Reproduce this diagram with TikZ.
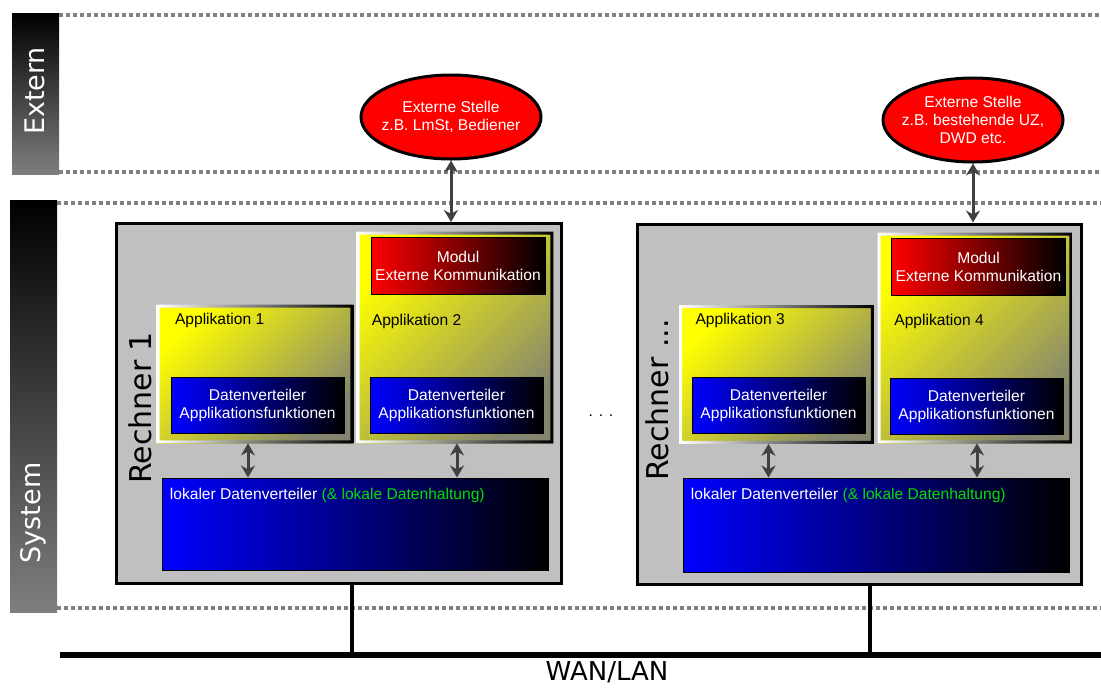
\documentclass[tikz,border=0pt]{standalone}
\usepackage{fontspec}
\setmainfont{Liberation Sans}
\newfontfamily\sidefont{DejaVu Sans}
\usetikzlibrary{arrows.meta,positioning,shapes.geometric}
\definecolor{clrBox}{RGB}{192,192,192}
\definecolor{clrSep}{RGB}{128,128,128}
\definecolor{clrLink}{RGB}{64,64,64}
\definecolor{clrAppEnd}{RGB}{132,132,112}
\definecolor{clrBar}{RGB}{126,126,126}
\definecolor{clrGreen}{RGB}{0,224,0}
\newcommand{\lbl}{\fontsize{7.8}{9}\selectfont}
\tikzset{
  zone/.style={font=\sidefont\fontsize{13.5}{16}\selectfont,text=white,rotate=90,inner sep=0pt},
  zonesep/.style={draw=clrSep,line width=2pt,dash pattern=on 2pt off 1.5pt},
  rechner/.style={rectangle,draw=black,line width=1.5pt,fill=clrBox,inner sep=0pt},
  rechlbl/.style={font=\sidefont\fontsize{15}{18}\selectfont,rotate=90,inner sep=0pt},
  app/.style={rectangle,top color=yellow,bottom color=clrAppEnd,shading angle=45,inner sep=0pt},
  applbl/.style={font=\lbl,inner sep=0pt},
  modul/.style={rectangle,draw=black,line width=0.5pt,left color=red,right color=black,
    text=white,font=\lbl,align=center,inner sep=0pt,minimum width=87pt,minimum height=28.5pt},
  verteiler/.style={rectangle,draw=black,line width=0.5pt,left color=blue,right color=black,
    text=white,font=\lbl,align=center,inner sep=0pt,minimum width=86.5pt,minimum height=28pt},
  lokal/.style={rectangle,draw=black,line width=0.5pt,left color=blue,right color=black,
    inner sep=0pt,minimum width=193pt,minimum height=46pt},
  extstelle/.style={ellipse,draw=black,line width=1.5pt,fill=red,text=white,font=\lbl,
    align=center,inner xsep=-5pt,inner ysep=0pt,minimum width=90pt,minimum height=42pt},
  link/.style={{Stealth[length=6pt,width=7pt]}-{Stealth[length=6pt,width=7pt]},
    line width=1.5pt,draw=clrLink},
  bus/.style={line width=3pt},
  drop/.style={line width=2pt}
}
\begin{document}
\begin{tikzpicture}[x=0.5pt,y=-0.5pt]
  \useasboundingbox (0,0) rectangle (1101,687);
  % side bars
  \shade[top color=black,bottom color=clrBar] (12,13) rectangle (59,174);
  \shade[top color=black,bottom color=clrBar] (10,200) rectangle (57,612);
  \node[zone] (extern) at (35,91) {Extern};
  \node[zone] (system) at (33,513) {System};
  \draw[zonesep] (59,15) -- (1101,15);
  \draw[zonesep] (59,172) -- (1101,172);
  \draw[zonesep] (57,203) -- (1101,203);
  \draw[zonesep] (57,608) -- (1101,608);

  % external partners
  \node[extstelle] (ext1) at (451,117) {Externe Stelle\\z.B. LmSt, Bediener};
  \node[extstelle] (ext2) at (973,120) {Externe Stelle\\z.B. bestehende UZ,\\DWD etc.};

  % computers
  \node[rechner,minimum width=222.5pt,minimum height=180pt] (r1) at (339,403.5) {};
  \node[rechner,minimum width=222pt,minimum height=180pt] (r2) at (859.5,404) {};
  \node[rechlbl] (r1lbl) at (140,408) {Rechner 1};
  \node[rechlbl] (r2lbl) at (657,400) {Rechner ...};

  % applications
  \node[app,minimum width=98pt,minimum height=69pt] (app1) at (255,374) {};
  \node[app,minimum width=98pt,minimum height=105.5pt] (app2) at (455,337.5) {};
  \node[app,minimum width=97pt,minimum height=69pt] (app3) at (776.5,374.5) {};
  \node[app,minimum width=97pt,minimum height=105pt] (app4) at (975,338) {};
  \foreach \a in {app1,app2,app3,app4}
    \shade[left color=white,right color=black,even odd rule]
      (\a.north west) rectangle (\a.south east)
      ([shift={(3,3)}]\a.north west) rectangle ([shift={(-3,-3)}]\a.south east);

  \node[modul] (mod2) at (458,265.5) {Modul\\Externe Kommunikation};
  \node[modul] (mod4) at (978.5,266.5) {Modul\\Externe Kommunikation};
  \node[verteiler] (dv1) at (257.5,405) {Datenverteiler\\Applikationsfunktionen};
  \node[verteiler] (dv2) at (456.5,405.5) {Datenverteiler\\Applikationsfunktionen};
  \node[verteiler] (dv3) at (778.5,405) {Datenverteiler\\Applikationsfunktionen};
  \node[verteiler] (dv4) at (976.5,406) {Datenverteiler\\Applikationsfunktionen};

  \node[applbl,below right=4pt and 9pt of app1.north west] (app1lbl) {Applikation 1};
  \node[applbl,below right=9.5pt and 0.5pt of mod2.south west] (app2lbl) {Applikation 2};
  \node[applbl,below right=4pt and 8pt of app3.north west] (app3lbl) {Applikation 3};
  \node[applbl,below right=9pt and 1.5pt of mod4.south west] (app4lbl) {Applikation 4};

  % local data distribution
  \node[lokal] (lok1) at (355,524) {};
  \node[lokal,minimum height=47pt] (lok2) at (876,525) {};
  \node[applbl,text=white,below right=5pt and 4pt of lok1.north west] (lok1lbl)
    {lokaler Datenverteiler \textcolor{clrGreen}{(\& lokale Datenhaltung)}};
  \node[applbl,text=white,below right=5pt and 4pt of lok2.north west] (lok2lbl)
    {lokaler Datenverteiler \textcolor{clrGreen}{(\& lokale Datenhaltung)}};

  \node[font=\lbl] (more) at (601,416) {. . .};

  % links
  \draw[link] (ext1.south) -- (ext1.south |- r1.north);
  \draw[link] (ext2.south) -- (ext2.south |- r2.north);
  \draw[link] ([xshift=-3.5pt]app1.south) -- ([xshift=-3.5pt]app1.south |- lok1.north);
  \draw[link] ([xshift=1pt]app2.south) -- ([xshift=1pt]app2.south |- lok1.north);
  \draw[link] ([xshift=-4pt]app3.south) -- ([xshift=-4pt]app3.south |- lok2.north);
  \draw[link] ([xshift=1pt]app4.south) -- ([xshift=1pt]app4.south |- lok2.north);

  % network
  \coordinate (busL) at (60,655);
  \coordinate (busR) at (1101,655);
  \coordinate (tap1) at (352,655);
  \coordinate (tap2) at (870,655);
  \draw[drop] (r1.south -| tap1) -- (tap1);
  \draw[drop] (r2.south -| tap2) -- (tap2);
  \draw[bus] (busL) -- (busR);
  \node[font=\sidefont\fontsize{13}{16}\selectfont] (lan) at (607,672) {WAN/LAN};
\end{tikzpicture}
\end{document}
